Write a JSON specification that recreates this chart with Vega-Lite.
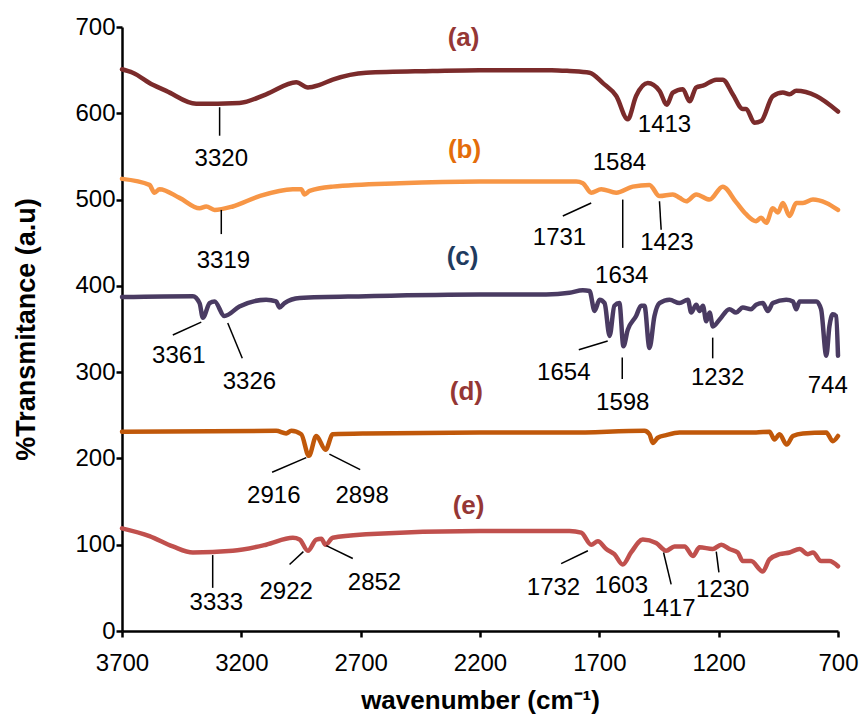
{
  "$schema": "https://vega.github.io/schema/vega-lite/v6.json",
  "width": 716,
  "height": 604,
  "autosize": {"type": "none"},
  "padding": {"left": 122, "top": 27, "right": 24, "bottom": 86},
  "background": "white",
  "config": {
    "view": {"stroke": null},
    "font": "Liberation Sans",
    "axis": {"grid": false, "domainColor": "black", "domainWidth": 2.5, "tickColor": "black", "tickWidth": 2.5, "tickSize": 6,
      "labelFontSize": 24, "labelColor": "black", "labelFlush": false,
      "titleFontSize": 26, "titleFontWeight": "bold", "titleColor": "black"},
    "axisX": {"labelPadding": 14, "titlePadding": 12},
    "axisY": {"labelPadding": 1, "titlePadding": 34, "titleFontSize": 27}
  },
  "datasets": {
    "spectra": [
      {"s":"a","w":3700,"t":651},{"s":"a","w":3655,"t":647},{"s":"a","w":3571,"t":633},{"s":"a","w":3515,"t":626},{"s":"a","w":3389,"t":611},{"s":"a","w":3208,"t":612},{"s":"a","w":3096,"t":622},{"s":"a","w":2970,"t":636},{"s":"a","w":2921,"t":630},{"s":"a","w":2872,"t":633},{"s":"a","w":2817,"t":639},{"s":"a","w":2677,"t":647},{"s":"a","w":2399,"t":649},{"s":"a","w":2202,"t":650},{"s":"a","w":1900,"t":650},{"s":"a","w":1825,"t":649},{"s":"a","w":1741,"t":647},{"s":"a","w":1685,"t":635},{"s":"a","w":1629,"t":620},{"s":"a","w":1581,"t":593},{"s":"a","w":1546,"t":620},{"s":"a","w":1497,"t":635},{"s":"a","w":1448,"t":626},{"s":"a","w":1417,"t":610},{"s":"a","w":1392,"t":624},{"s":"a","w":1350,"t":628},{"s":"a","w":1322,"t":614},{"s":"a","w":1294,"t":630},{"s":"a","w":1266,"t":632},{"s":"a","w":1210,"t":639},{"s":"a","w":1183,"t":639},{"s":"a","w":1141,"t":622},{"s":"a","w":1099,"t":605},{"s":"a","w":1085,"t":605},{"s":"a","w":1050,"t":589},{"s":"a","w":1022,"t":591},{"s":"a","w":973,"t":620},{"s":"a","w":931,"t":624},{"s":"a","w":903,"t":622},{"s":"a","w":875,"t":626},{"s":"a","w":791,"t":620},{"s":"a","w":700,"t":602},
      {"s":"b","w":3700,"t":524},{"s":"b","w":3585,"t":517},{"s":"b","w":3564,"t":508},{"s":"b","w":3543,"t":512},{"s":"b","w":3459,"t":502},{"s":"b","w":3375,"t":490},{"s":"b","w":3347,"t":492},{"s":"b","w":3312,"t":488},{"s":"b","w":3236,"t":492},{"s":"b","w":3124,"t":504},{"s":"b","w":2984,"t":512},{"s":"b","w":2949,"t":512},{"s":"b","w":2935,"t":506},{"s":"b","w":2914,"t":510},{"s":"b","w":2817,"t":515},{"s":"b","w":2537,"t":519},{"s":"b","w":2202,"t":521},{"s":"b","w":1900,"t":521},{"s":"b","w":1797,"t":521},{"s":"b","w":1769,"t":519},{"s":"b","w":1734,"t":508},{"s":"b","w":1692,"t":512},{"s":"b","w":1629,"t":508},{"s":"b","w":1560,"t":515},{"s":"b","w":1490,"t":517},{"s":"b","w":1448,"t":504},{"s":"b","w":1392,"t":506},{"s":"b","w":1364,"t":502},{"s":"b","w":1336,"t":498},{"s":"b","w":1294,"t":506},{"s":"b","w":1238,"t":500},{"s":"b","w":1183,"t":515},{"s":"b","w":1127,"t":497},{"s":"b","w":1085,"t":483},{"s":"b","w":1043,"t":475},{"s":"b","w":1022,"t":479},{"s":"b","w":1001,"t":473},{"s":"b","w":973,"t":490},{"s":"b","w":952,"t":485},{"s":"b","w":931,"t":496},{"s":"b","w":903,"t":481},{"s":"b","w":875,"t":496},{"s":"b","w":847,"t":496},{"s":"b","w":805,"t":500},{"s":"b","w":749,"t":496},{"s":"b","w":700,"t":488},
      {"s":"c","w":3700,"t":387},{"s":"c","w":3403,"t":388},{"s":"c","w":3375,"t":380},{"s":"c","w":3361,"t":363},{"s":"c","w":3333,"t":380},{"s":"c","w":3312,"t":382},{"s":"c","w":3271,"t":365},{"s":"c","w":3208,"t":376},{"s":"c","w":3096,"t":384},{"s":"c","w":3054,"t":382},{"s":"c","w":3040,"t":375},{"s":"c","w":3019,"t":380},{"s":"c","w":2956,"t":386},{"s":"c","w":2677,"t":388},{"s":"c","w":2202,"t":390},{"s":"c","w":1923,"t":390},{"s":"c","w":1825,"t":392},{"s":"c","w":1769,"t":395},{"s":"c","w":1741,"t":394},{"s":"c","w":1720,"t":371},{"s":"c","w":1699,"t":384},{"s":"c","w":1678,"t":380},{"s":"c","w":1657,"t":342},{"s":"c","w":1637,"t":377},{"s":"c","w":1616,"t":380},{"s":"c","w":1599,"t":330},{"s":"c","w":1581,"t":349},{"s":"c","w":1546,"t":365},{"s":"c","w":1525,"t":377},{"s":"c","w":1511,"t":377},{"s":"c","w":1490,"t":328},{"s":"c","w":1469,"t":365},{"s":"c","w":1448,"t":380},{"s":"c","w":1406,"t":384},{"s":"c","w":1364,"t":380},{"s":"c","w":1329,"t":384},{"s":"c","w":1315,"t":369},{"s":"c","w":1294,"t":378},{"s":"c","w":1280,"t":371},{"s":"c","w":1266,"t":377},{"s":"c","w":1252,"t":359},{"s":"c","w":1238,"t":369},{"s":"c","w":1224,"t":353},{"s":"c","w":1196,"t":361},{"s":"c","w":1155,"t":373},{"s":"c","w":1127,"t":369},{"s":"c","w":1099,"t":375},{"s":"c","w":1064,"t":373},{"s":"c","w":1043,"t":378},{"s":"c","w":1015,"t":380},{"s":"c","w":994,"t":371},{"s":"c","w":973,"t":380},{"s":"c","w":917,"t":384},{"s":"c","w":889,"t":382},{"s":"c","w":875,"t":373},{"s":"c","w":861,"t":382},{"s":"c","w":791,"t":382},{"s":"c","w":771,"t":373},{"s":"c","w":749,"t":319},{"s":"c","w":736,"t":353},{"s":"c","w":722,"t":367},{"s":"c","w":708,"t":365},{"s":"c","w":700,"t":319},
      {"s":"d","w":3700,"t":231},{"s":"d","w":3054,"t":232},{"s":"d","w":3012,"t":229},{"s":"d","w":2991,"t":232},{"s":"d","w":2949,"t":228},{"s":"d","w":2917,"t":203},{"s":"d","w":2886,"t":226},{"s":"d","w":2847,"t":210},{"s":"d","w":2817,"t":228},{"s":"d","w":2677,"t":229},{"s":"d","w":2202,"t":230},{"s":"d","w":1825,"t":230},{"s":"d","w":1511,"t":232},{"s":"d","w":1490,"t":228},{"s":"d","w":1476,"t":218},{"s":"d","w":1455,"t":224},{"s":"d","w":1420,"t":227},{"s":"d","w":1364,"t":230},{"s":"d","w":1043,"t":230},{"s":"d","w":987,"t":231},{"s":"d","w":966,"t":222},{"s":"d","w":945,"t":228},{"s":"d","w":915,"t":216},{"s":"d","w":889,"t":226},{"s":"d","w":847,"t":229},{"s":"d","w":749,"t":230},{"s":"d","w":722,"t":220},{"s":"d","w":700,"t":226},
      {"s":"e","w":3700,"t":119},{"s":"e","w":3585,"t":110},{"s":"e","w":3487,"t":98},{"s":"e","w":3403,"t":91},{"s":"e","w":3236,"t":93},{"s":"e","w":3096,"t":100},{"s":"e","w":2984,"t":108},{"s":"e","w":2956,"t":106},{"s":"e","w":2921,"t":93},{"s":"e","w":2886,"t":106},{"s":"e","w":2865,"t":107},{"s":"e","w":2847,"t":100},{"s":"e","w":2817,"t":108},{"s":"e","w":2677,"t":112},{"s":"e","w":2202,"t":116},{"s":"e","w":1825,"t":116},{"s":"e","w":1776,"t":114},{"s":"e","w":1734,"t":100},{"s":"e","w":1706,"t":104},{"s":"e","w":1671,"t":95},{"s":"e","w":1637,"t":89},{"s":"e","w":1602,"t":77},{"s":"e","w":1567,"t":91},{"s":"e","w":1518,"t":106},{"s":"e","w":1462,"t":102},{"s":"e","w":1420,"t":93},{"s":"e","w":1385,"t":98},{"s":"e","w":1343,"t":98},{"s":"e","w":1308,"t":87},{"s":"e","w":1280,"t":97},{"s":"e","w":1225,"t":95},{"s":"e","w":1189,"t":100},{"s":"e","w":1155,"t":95},{"s":"e","w":1120,"t":91},{"s":"e","w":1099,"t":81},{"s":"e","w":1064,"t":81},{"s":"e","w":1015,"t":69},{"s":"e","w":987,"t":83},{"s":"e","w":945,"t":89},{"s":"e","w":903,"t":91},{"s":"e","w":861,"t":95},{"s":"e","w":826,"t":89},{"s":"e","w":805,"t":91},{"s":"e","w":771,"t":81},{"s":"e","w":736,"t":81},{"s":"e","w":700,"t":75}
    ],
    "leaders": [
      {"w":3291,"t":607,"w2":3291,"t2":574},
      {"w":3284,"t":488,"w2":3284,"t2":460},
      {"w":1853,"t":481,"w2":1734,"t2":496},
      {"w":1602,"t":500,"w2":1602,"t2":444},
      {"w":1448,"t":498,"w2":1441,"t2":465},
      {"w":3487,"t":343,"w2":3368,"t2":358},
      {"w":3257,"t":357,"w2":3196,"t2":316},
      {"w":1786,"t":326,"w2":1665,"t2":336},
      {"w":1604,"t":317,"w2":1604,"t2":292},
      {"w":1225,"t":340,"w2":1225,"t2":316},
      {"w":3071,"t":184,"w2":2928,"t2":201},
      {"w":2831,"t":205,"w2":2702,"t2":187},
      {"w":3320,"t":88,"w2":3320,"t2":50},
      {"w":2998,"t":77,"w2":2940,"t2":92},
      {"w":2844,"t":99,"w2":2733,"t2":84},
      {"w":1860,"t":78,"w2":1748,"t2":93},
      {"w":1431,"t":91,"w2":1399,"t2":54},
      {"w":1210,"t":92,"w2":1199,"t2":68}
    ],
    "peaks": [
      {"w":3284,"t":546.6,"label":"3320"},
      {"w":1427,"t":586,"label":"1413"},
      {"w":3275,"t":428.7,"label":"3319"},
      {"w":1616,"t":542.7,"label":"1584"},
      {"w":1867,"t":455.8,"label":"1731"},
      {"w":1606,"t":411.3,"label":"1634"},
      {"w":1417,"t":450,"label":"1423"},
      {"w":3462,"t":318.6,"label":"3361"},
      {"w":3166,"t":288.5,"label":"3326"},
      {"w":1849,"t":299.4,"label":"1654"},
      {"w":1602,"t":264.6,"label":"1598"},
      {"w":1204,"t":293.6,"label":"1232"},
      {"w":743,"t":283.9,"label":"744"},
      {"w":3064,"t":156.4,"label":"2916"},
      {"w":2694,"t":156.4,"label":"2898"},
      {"w":3305,"t":32.9,"label":"3333"},
      {"w":3012,"t":45.2,"label":"2922"},
      {"w":2642,"t":56.1,"label":"2852"},
      {"w":1892,"t":50.3,"label":"1732"},
      {"w":1608,"t":52.1,"label":"1603"},
      {"w":1409,"t":26,"label":"1417"},
      {"w":1183,"t":47.5,"label":"1230"}
    ],
    "series": [
      {"s":"a","w":2269,"t":687.5,"label":"(a)"},
      {"s":"b","w":2265,"t":558,"label":"(b)"},
      {"s":"c","w":2273,"t":433,"label":"(c)"},
      {"s":"d","w":2257,"t":276.6,"label":"(d)"},
      {"s":"e","w":2248,"t":144.8,"label":"(e)"}
    ]
  },
  "layer": [
    {
      "data": {"name": "spectra"},
      "mark": {"type": "line", "strokeWidth": 4.5, "strokeCap": "round", "strokeJoin": "round", "interpolate": "monotone"},
      "encoding": {
        "x": {"field": "w", "type": "quantitative",
          "scale": {"domain": [700, 3700], "reverse": true, "nice": false, "zero": false},
          "axis": {"values": [3700, 3200, 2700, 2200, 1700, 1200, 700], "format": "d", "title": "wavenumber (cm⁻¹)"}},
        "y": {"field": "t", "type": "quantitative",
          "scale": {"domain": [0, 700], "nice": false},
          "axis": {"values": [0, 100, 200, 300, 400, 500, 600, 700], "format": "d", "title": "%Transmitance (a.u)"}},
        "color": {"field": "s", "type": "nominal",
          "scale": {"domain": ["a", "b", "c", "d", "e"], "range": ["#7B2B2B", "#F79646", "#4A3B62", "#C0580A", "#C0504D"]},
          "legend": null}
      }
    },
    {
      "data": {"name": "leaders"},
      "mark": {"type": "rule", "color": "black", "strokeWidth": 1.5},
      "encoding": {
        "x": {"field": "w", "type": "quantitative", "axis": {"values": [3700, 3200, 2700, 2200, 1700, 1200, 700], "format": "d", "title": "wavenumber (cm⁻¹)"}},
        "y": {"field": "t", "type": "quantitative", "axis": {"values": [0, 100, 200, 300, 400, 500, 600, 700], "format": "d", "title": "%Transmitance (a.u)"}},
        "x2": {"field": "w2"},
        "y2": {"field": "t2"}
      }
    },
    {
      "data": {"name": "peaks"},
      "mark": {"type": "text", "fontSize": 24, "color": "black", "align": "center", "baseline": "middle"},
      "encoding": {
        "x": {"field": "w", "type": "quantitative", "axis": {"values": [3700, 3200, 2700, 2200, 1700, 1200, 700], "format": "d", "title": "wavenumber (cm⁻¹)"}},
        "y": {"field": "t", "type": "quantitative", "axis": {"values": [0, 100, 200, 300, 400, 500, 600, 700], "format": "d", "title": "%Transmitance (a.u)"}},
        "text": {"field": "label"}
      }
    },
    {
      "data": {"name": "series"},
      "mark": {"type": "text", "fontSize": 26, "fontWeight": "bold", "align": "center", "baseline": "middle"},
      "encoding": {
        "x": {"field": "w", "type": "quantitative", "axis": {"values": [3700, 3200, 2700, 2200, 1700, 1200, 700], "format": "d", "title": "wavenumber (cm⁻¹)"}},
        "y": {"field": "t", "type": "quantitative", "axis": {"values": [0, 100, 200, 300, 400, 500, 600, 700], "format": "d", "title": "%Transmitance (a.u)"}},
        "text": {"field": "label"},
        "color": {"field": "s", "type": "nominal",
          "scale": {"domain": ["a", "b", "c", "d", "e"], "range": ["#953735", "#E46C0A", "#1F3B5F", "#953735", "#953735"]},
          "legend": null}
      }
    }
  ],
  "resolve": {"scale": {"color": "independent"}}
}
